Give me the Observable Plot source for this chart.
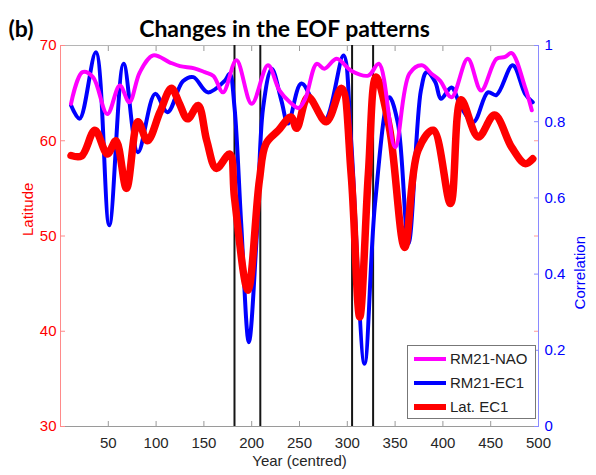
<!DOCTYPE html>
<html>
<head>
<meta charset="utf-8">
<script src="https://cdn.jsdelivr.net/npm/d3@7"></script>
<script src="https://cdn.jsdelivr.net/npm/@observablehq/plot@0.6"></script>
<style>
  html, body { margin: 0; padding: 0; background: white; }
  #wrap { position: relative; width: 596px; height: 475px; }
  #legend { position: absolute; left: 407px; top: 345px; width: 129px; height: 74px;
            border: 1px solid #777; background: white; box-sizing: border-box;
            font-family: "Liberation Sans", Arial, sans-serif; font-size: 15px; color: #222; }
  .row { position: absolute; left: 0; height: 20px; width: 100%; }
  .sw { position: absolute; left: 6px; width: 32px; }
  .lab { position: absolute; left: 42px; top: 1px; line-height: 18px; white-space: nowrap; }
</style>
</head>
<body>
<div id="wrap"></div>
<script>
// ---- data ----
const naoYears = [11, 23, 34, 49, 62, 72, 83, 97, 114, 125, 140, 151, 160, 170, 184, 200, 217, 229, 240, 249, 256, 268, 276, 289, 304, 322, 333, 350, 365, 378, 388, 397, 409, 426, 440, 456, 465, 472, 486, 493];
const naoCorr  = [0.847, 0.93, 0.917, 0.82, 0.895, 0.851, 0.93, 0.974, 0.956, 0.946, 0.94, 0.93, 0.92, 0.877, 0.961, 0.847, 0.948, 0.882, 0.851, 0.836, 0.86, 0.952, 0.939, 0.965, 0.934, 0.921, 0.952, 0.733, 0.926, 0.948, 0.926, 0.908, 0.864, 0.965, 0.882, 0.965, 0.97, 0.98, 0.89, 0.83];

const ec1Years = [11, 20, 37, 51, 66, 81, 99, 112, 128, 139, 154, 172, 177, 182, 189, 197, 205, 212, 221, 231, 238, 252, 276, 296, 304, 318, 329, 344, 353, 364, 377, 383, 392, 398, 409, 419, 432, 447, 456, 473, 486, 494];
const ec1Corr  = [0.843, 0.808, 0.982, 0.528, 0.952, 0.72, 0.873, 0.825, 0.906, 0.917, 0.877, 0.908, 0.926, 0.838, 0.533, 0.221, 0.488, 0.838, 0.939, 0.856, 0.795, 0.9, 0.803, 0.974, 0.75, 0.165, 0.585, 0.864, 0.795, 0.48, 0.882, 0.93, 0.904, 0.86, 0.89, 0.838, 0.799, 0.877, 0.87, 0.948, 0.873, 0.851];

const latYears = [11, 22, 36, 49, 58, 69, 81, 91, 104, 116, 124, 133, 144, 153, 163, 177, 182, 196, 208, 215, 228, 241, 247, 259, 278, 294, 304, 313, 322, 330, 344, 360, 374, 390, 408, 419, 437, 454, 472, 486, 494];
const latVals  = [58.45, 58.4, 61.1, 58.6, 60.0, 55.0, 62.0, 60.0, 63.0, 65.5, 64.0, 62.3, 63.7, 60.0, 57.1, 58.6, 54.0, 44.3, 55.8, 59.7, 61.1, 62.5, 61.3, 64.6, 62.0, 65.5, 56.5, 41.5, 56.5, 66.7, 61.4, 48.8, 59.0, 61.1, 53.4, 64.3, 60.4, 62.7, 59.3, 57.6, 58.1];

const breakYears = [182, 209, 305, 327];
const xTicks = [50, 100, 150, 200, 250, 300, 350, 400, 450, 500];
const latTicks = [30, 40, 50, 60, 70];
const corrTicks = [0, 0.2, 0.4, 0.6, 0.8, 1];
const xDomain = [0, 500];
const latDomain = [30, 70];
const seriesNames = ["RM21-NAO", "RM21-EC1", "Lat. EC1"];
const seriesColors = ["#ff00ff", "#0000ff", "#ff0000"];

// correlation (0..1) placed on the latitude scale (30..70) for the right-hand axis
const corrToLat = c => latDomain[0] + c * (latDomain[1] - latDomain[0]);
const latToCorr = v => Math.round(((v - latDomain[0]) / (latDomain[1] - latDomain[0])) * 10) / 10;

const nao = naoYears.map((x, i) => ({x, y: corrToLat(naoCorr[i])}));
const ec1 = ec1Years.map((x, i) => ({x, y: corrToLat(ec1Corr[i])}));
const lat = latYears.map((x, i) => ({x, y: latVals[i]}));

const font = "'Liberation Sans', Arial, sans-serif";
const titleFont = "Lato, 'Open Sans', sans-serif";

const chart = Plot.plot({
  width: 596,
  height: 475,
  marginLeft: 60,
  marginRight: 58,
  marginTop: 45,
  marginBottom: 49,
  style: {fontFamily: font, fontSize: "15px", background: "white", overflow: "visible"},
  x: {domain: xDomain},
  y: {domain: latDomain},
  marks: [
    // frame
    Plot.ruleY([latDomain[1]], {stroke: "#b5b5b5"}),
    Plot.ruleY([latDomain[0]], {stroke: "#9a9a9a"}),
    // axes
    Plot.axisX({anchor: "bottom", label: null, ticks: xTicks, tickSize: -5, tickPadding: 16, color: "#262626", stroke: "#9a9a9a", fontSize: 15}),
    Plot.axisX({anchor: "top", label: null, ticks: xTicks.filter(t => t < xDomain[1]), tickSize: -5, tickFormat: () => "", stroke: "#9a9a9a"}),
    Plot.axisY({anchor: "left", label: null, ticks: latTicks, tickSize: -5, tickPadding: 9, fill: "#ff0000", stroke: "#ff8a8a", fontSize: 15}),
    Plot.axisY({anchor: "right", label: null, ticks: latTicks.slice(1, -1), tickSize: -5, tickFormat: () => "", stroke: "#ff9a9a"}),
    Plot.axisY({anchor: "right", label: null, ticks: corrTicks.map(corrToLat), tickFormat: latToCorr, tickSize: -5, tickPadding: 11, fill: "#0000ff", stroke: "#8a8aff", fontSize: 15}),
    Plot.ruleX([xDomain[0]], {stroke: "#ff8a8a"}),
    Plot.ruleX([xDomain[1]], {stroke: "#8a8aff"}),
    // period markers
    Plot.ruleX(breakYears, {stroke: "#151515", strokeWidth: 2}),
    // series
    Plot.line(ec1, {x: "x", y: "y", stroke: seriesColors[1], strokeWidth: 4, curve: "catmull-rom"}),
    Plot.line(lat, {x: "x", y: "y", stroke: seriesColors[2], strokeWidth: 7.5, curve: "catmull-rom"}),
    Plot.line(nao, {x: "x", y: "y", stroke: seriesColors[0], strokeWidth: 4, curve: "catmull-rom"}),
    // labels
    Plot.text(["Latitude"], {frameAnchor: "left", dx: -32, rotate: -90, fill: "#ff0000", fontSize: 15}),
    Plot.text(["Correlation"], {frameAnchor: "right", dx: 42, rotate: -90, fill: "#0000ff", fontSize: 15}),
    Plot.text(["Year (centred)"], {frameAnchor: "bottom", dy: 39, fill: "#262626", fontSize: 15}),
    Plot.text(["Changes in the EOF patterns"], {frameAnchor: "top-left", textAnchor: "middle", dx: 224, dy: -25, fontSize: 23, fontWeight: "bold", fontFamily: titleFont, fill: "#000"}),
    Plot.text(["(b)"], {frameAnchor: "top-left", textAnchor: "start", dx: -52, dy: -25, fontSize: 23, fontWeight: "bold", fontFamily: titleFont, fill: "#000"})
  ]
});

const wrap = document.getElementById("wrap");
wrap.appendChild(chart);

// legend
const legend = document.createElement("div");
legend.id = "legend";
const rowTops = [3, 27, 51];
const swH = [4, 4, 6];
seriesNames.forEach((name, i) => {
  const row = document.createElement("div");
  row.className = "row";
  row.style.top = rowTops[i] + "px";
  const sw = document.createElement("div");
  sw.className = "sw";
  sw.style.background = seriesColors[i];
  sw.style.height = swH[i] + "px";
  sw.style.top = (10 - swH[i] / 2) + "px";
  const lab = document.createElement("span");
  lab.className = "lab";
  lab.textContent = name;
  row.appendChild(sw);
  row.appendChild(lab);
  legend.appendChild(row);
});
wrap.appendChild(legend);
</script>
</body>
</html>
